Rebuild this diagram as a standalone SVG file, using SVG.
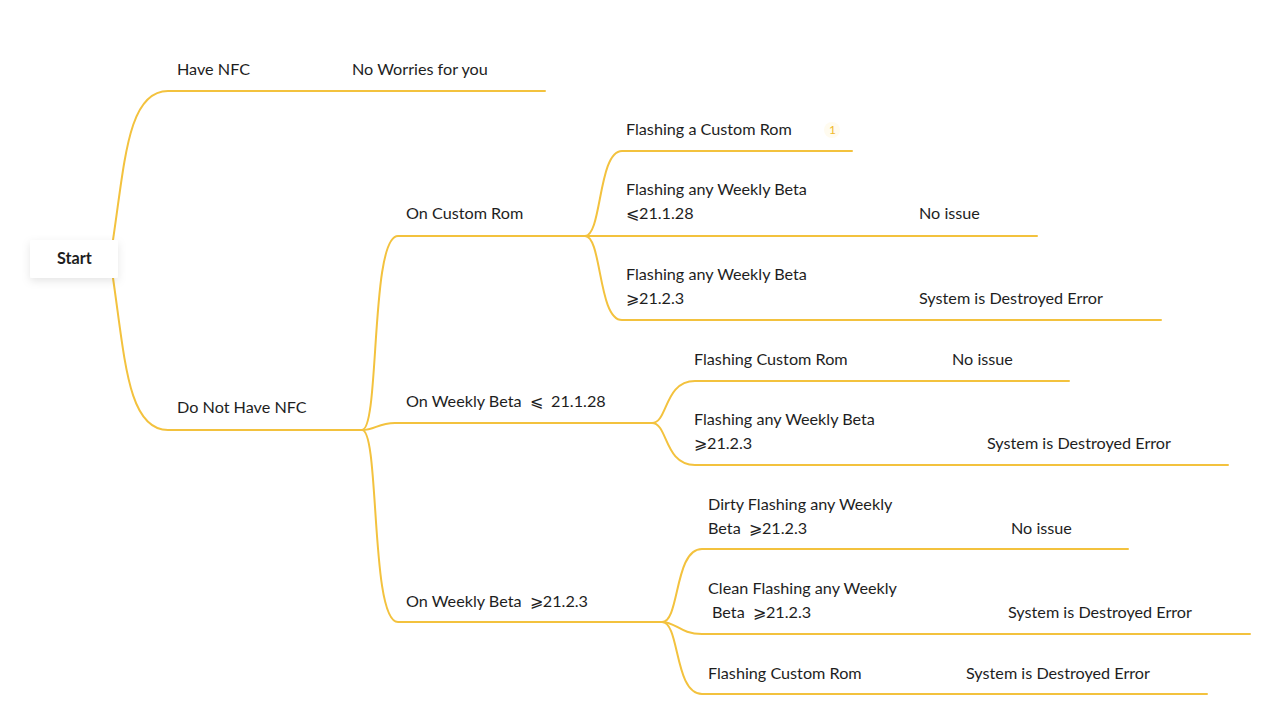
<svg xmlns="http://www.w3.org/2000/svg" width="1280" height="726" viewBox="0 0 1280 726">
<defs>
<filter id="sh" x="-30%" y="-30%" width="160%" height="180%">
<feDropShadow dx="0" dy="3" stdDeviation="4" flood-color="#000" flood-opacity="0.10"/>
</filter>
<style>
.l{fill:none;stroke:#F3C23E;stroke-width:2;stroke-linecap:round}
.t{font-family:Lato,"Noto Sans","Liberation Sans",sans-serif;font-size:16.2px;fill:#1e1e1e}
.s{font-weight:bold}
.b{font-family:Lato,"Liberation Sans",sans-serif;font-size:12px;fill:#F0B92A}
</style>
</defs>
<rect width="1280" height="726" fill="#fff"/>
<g id="connectors">
<path class="l" d="M113,240 C125,160 128,91 168,91 L545,91"/>
<path class="l" d="M113,278 C125,360 128,430 168,430 L362,430"/>
<path class="l" d="M362,430 C380,430 370,236 398,236 L585,236"/>
<path class="l" d="M362,430 C375,430 378,423 395,423 L652,423"/>
<path class="l" d="M362,430 C380,430 370,622 398,622 L662,622"/>
<path class="l" d="M585,236 C602,236 598,151 622,151 L852,151"/>
<path class="l" d="M585,236 L1037,236"/>
<path class="l" d="M585,236 C602,236 598,320 622,320 L1161,320"/>
<path class="l" d="M652,423 C668,423 664,381 695,381 L1069,381"/>
<path class="l" d="M652,423 C668,423 664,465 695,465 L1228,465"/>
<path class="l" d="M662,622 C680,622 674,549 702,549 L1128,549"/>
<path class="l" d="M662,622 C676,622 680,634 702,634 L1250,634"/>
<path class="l" d="M662,622 C680,622 674,694 702,694 L1207,694"/>
</g>
<g id="start">
<rect x="30" y="240" width="88" height="38" rx="2" fill="#fff" filter="url(#sh)"/>
<text class="t s" x="57" y="264">Start</text>
</g>
<g id="have-nfc"><text class="t" x="177" y="75">Have NFC</text></g>
<g id="no-worries"><text class="t" x="352" y="75">No Worries for you</text></g>
<g id="no-nfc"><text class="t" x="177" y="413">Do Not Have NFC</text></g>
<g id="on-custom-rom"><text class="t" x="406" y="219">On Custom Rom</text></g>
<g id="on-beta-le"><text class="t" x="406" y="407" xml:space="preserve">On Weekly Beta  ⩽  21.1.28</text></g>
<g id="on-beta-ge"><text class="t" x="406" y="607" xml:space="preserve">On Weekly Beta  ⩾21.2.3</text></g>
<g id="cr-flash-custom">
<text class="t" x="626" y="135">Flashing a Custom Rom</text>
<circle cx="832" cy="130" r="8" fill="#FFFBEF"/>
<text class="b" x="829" y="134">1</text>
</g>
<g id="cr-flash-le"><text class="t" x="626" y="195">Flashing any Weekly Beta</text><text class="t" x="626" y="219">⩽21.1.28</text></g>
<g id="cr-le-result"><text class="t" x="919" y="219">No issue</text></g>
<g id="cr-flash-ge"><text class="t" x="626" y="280">Flashing any Weekly Beta</text><text class="t" x="626" y="304">⩾21.2.3</text></g>
<g id="cr-ge-result"><text class="t" x="919" y="304">System is Destroyed Error</text></g>
<g id="le-flash-custom"><text class="t" x="694" y="365">Flashing Custom Rom</text></g>
<g id="le-custom-result"><text class="t" x="952" y="365">No issue</text></g>
<g id="le-flash-ge"><text class="t" x="694" y="425">Flashing any Weekly Beta</text><text class="t" x="694" y="449">⩾21.2.3</text></g>
<g id="le-ge-result"><text class="t" x="987" y="449">System is Destroyed Error</text></g>
<g id="ge-dirty"><text class="t" x="708" y="510">Dirty Flashing any Weekly</text><text class="t" x="708" y="534" xml:space="preserve">Beta  ⩾21.2.3</text></g>
<g id="ge-dirty-result"><text class="t" x="1011" y="534">No issue</text></g>
<g id="ge-clean"><text class="t" x="708" y="594">Clean Flashing any Weekly</text><text class="t" x="712" y="618" xml:space="preserve">Beta  ⩾21.2.3</text></g>
<g id="ge-clean-result"><text class="t" x="1008" y="618">System is Destroyed Error</text></g>
<g id="ge-custom"><text class="t" x="708" y="679">Flashing Custom Rom</text></g>
<g id="ge-custom-result"><text class="t" x="966" y="679">System is Destroyed Error</text></g>
</svg>
